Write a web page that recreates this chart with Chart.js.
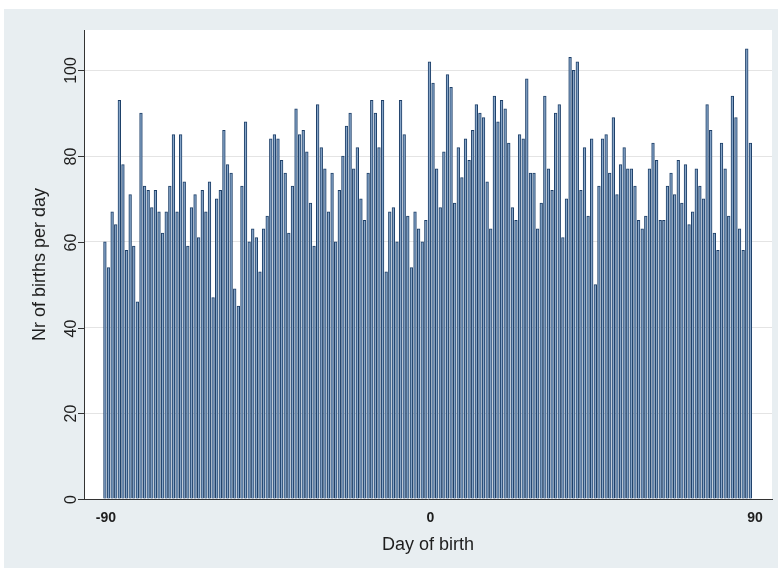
<!DOCTYPE html>
<html>
<head>
<meta charset="utf-8">
<script src="https://cdn.jsdelivr.net/npm/chart.js@4.4.1/dist/chart.umd.min.js"></script>
<style>
  html, body { margin: 0; padding: 0; background: #ffffff; }
  canvas { display: block; }
</style>
</head>
<body>
<canvas id="c" width="780" height="575"></canvas>
<script>
// Births per day around the reference date (day 0), from day -90 to day 89
const firstDay = -90;
const birthsPerDay = [
  60, 54, 67, 64, 93, 78, 58, 71, 59, 46, 90, 73, 72, 68, 72, 67, 62, 67, 73, 85, 67, 85, 74, 59, 68, 71, 61, 72, 67, 74,
  47, 70, 72, 86, 78, 76, 49, 45, 73, 88, 60, 63, 61, 53, 63, 66, 84, 85, 84, 79, 76, 62, 73, 91, 85, 86, 81, 69, 59, 92,
  82, 77, 67, 76, 60, 72, 80, 87, 90, 77, 82, 70, 65, 76, 93, 90, 82, 93, 53, 67, 68, 60, 93, 85, 66, 54, 67, 63, 60, 65,
  102, 97, 77, 68, 81, 99, 96, 69, 82, 75, 84, 79, 86, 92, 90, 89, 74, 63, 94, 88, 93, 91, 83, 68, 65, 85, 84, 98, 76, 76,
  63, 69, 94, 77, 72, 90, 92, 61, 70, 103, 100, 102, 72, 82, 66, 84, 50, 73, 84, 85, 76, 89, 71, 78, 82, 77, 77, 73, 65, 63,
  66, 77, 83, 79, 65, 65, 73, 76, 71, 79, 69, 78, 64, 67, 77, 73, 70, 92, 86, 62, 58, 83, 77, 66, 94, 89, 63, 58, 105, 83
];
const xTickValues = [-90, 0, 90];
const yTickValues = [0, 20, 40, 60, 80, 100];
const xTitle = 'Day of birth';
const yTitle = 'Nr of births per day';

const points = birthsPerDay.map((v, i) => ({ x: firstDay + i, y: v }));

const FONT = '"Liberation Sans", Arial, sans-serif';
const INK = '#1e1e1e';

const framePlugin = {
  id: 'frame',
  beforeDraw(chart) {
    const ctx = chart.ctx;
    const a = chart.chartArea;
    ctx.save();
    ctx.fillStyle = '#ffffff';
    ctx.fillRect(0, 0, chart.width, chart.height);
    ctx.fillStyle = '#e8eef1';
    ctx.fillRect(4, 9, 774, 559);
    ctx.fillStyle = '#ffffff';
    ctx.fillRect(a.left, a.top, a.right - a.left, a.bottom - a.top + 1);
    ctx.restore();
  },
  afterDraw(chart) {
    const ctx = chart.ctx;
    const a = chart.chartArea;
    const xs = chart.scales.x;
    const ys = chart.scales.y;
    ctx.save();
    // y tick marks and vertical tick labels
    ctx.strokeStyle = '#333333';
    ctx.lineWidth = 1;
    ctx.fillStyle = INK;
    ctx.font = '16px ' + FONT;
    ctx.textAlign = 'center';
    ctx.textBaseline = 'middle';
    yTickValues.forEach(v => {
      const py = Math.round(ys.getPixelForValue(v)) + 0.5;
      ctx.beginPath();
      ctx.moveTo(a.left - 6, py);
      ctx.lineTo(a.left, py);
      ctx.stroke();
      ctx.save();
      ctx.translate(a.left - 12, py);
      ctx.rotate(-Math.PI / 2);
      ctx.fillText(String(v), 0, 0);
      ctx.restore();
    });
    // x tick labels
    ctx.font = 'bold 14px ' + FONT;
    xTickValues.forEach(v => {
      ctx.fillText(String(v), xs.getPixelForValue(v) + 1, 518);
    });
    // axis titles
    ctx.font = '18px ' + FONT;
    ctx.fillText(xTitle, (a.left + a.right) / 2, 545);
    ctx.save();
    ctx.translate(40, (a.top + a.bottom) / 2);
    ctx.rotate(-Math.PI / 2);
    ctx.fillText(yTitle, 0, 0);
    ctx.restore();
    ctx.restore();
  }
};

new Chart(document.getElementById('c'), {
  type: 'bar',
  data: {
    datasets: [{
      data: points,
      backgroundColor: '#86a5c8',
      borderColor: '#1d3f68',
      borderWidth: { left: 1, right: 1, top: 1, bottom: 0 },
      borderSkipped: 'bottom',
      barThickness: 2.7
    }]
  },
  options: {
    responsive: false,
    animation: false,
    devicePixelRatio: 1,
    layout: { padding: { left: 84, top: 30, right: 8, bottom: 76 } },
    plugins: { legend: { display: false }, tooltip: { enabled: false } },
    scales: {
      x: {
        type: 'linear',
        min: -95.8,
        max: 95.0,
        offset: false,
        grid: { display: false, drawTicks: false },
        border: { display: true, color: '#333333', width: 1 },
        ticks: { display: false }
      },
      y: {
        type: 'linear',
        min: 0,
        max: 109.4,
        grid: { color: '#e4e4e4', lineWidth: 1, drawTicks: false },
        border: { display: true, color: '#333333', width: 1 },
        ticks: { display: false },
        afterBuildTicks(scale) {
          scale.ticks = yTickValues.map(v => ({ value: v }));
        }
      }
    }
  },
  plugins: [framePlugin]
});
</script>
</body>
</html>
